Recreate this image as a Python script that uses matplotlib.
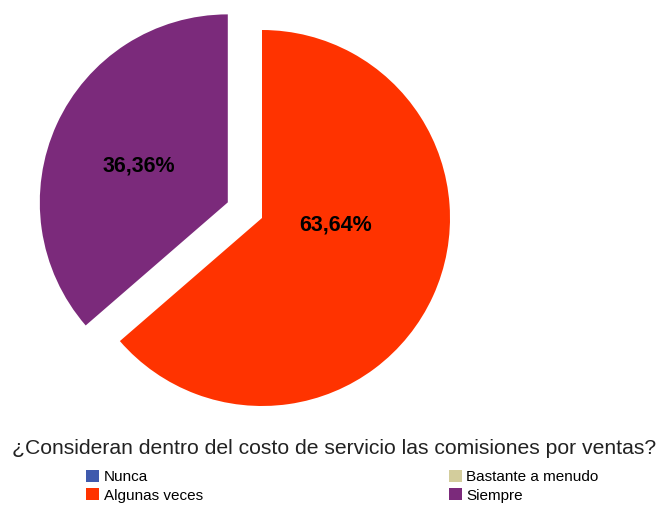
import matplotlib.pyplot as plt
from matplotlib.patches import Patch

categories = ["Nunca", "Algunas veces", "Bastante a menudo", "Siempre"]
values = [0, 63.64, 0, 36.36]
colors = ["#3f5aad", "#ff3300", "#d3cd9c", "#7b2a7b"]
title = "¿Consideran dentro del costo de servicio las comisiones por ventas?"

plt.rcParams['font.family'] = ['Liberation Sans', 'DejaVu Sans']

fig = plt.figure(figsize=(6.6, 5.05), dpi=100)

# pie axes: 188 px per data unit, centre at pixel (262, 218 from top)
scale = 188
lim = 1.3
side = 2 * lim * scale
cx, cy = 262, 505 - 218
ax = fig.add_axes([(cx - side / 2) / 660, (cy - side / 2) / 505, side / 660, side / 505])

# only non-zero slices are drawn
vals = [v for v in values if v > 0]
cols = [c for v, c in zip(values, colors) if v > 0]
expl = [0.2 if n == "Siempre" else 0 for v, n in zip(values, categories) if v > 0]

wedges, texts = ax.pie(vals, colors=cols, explode=expl, startangle=90,
                       counterclock=False, radius=1,
                       wedgeprops=dict(linewidth=0))
ax.set_xlim(-lim, lim)
ax.set_ylim(-lim, lim)
ax.set_aspect('equal')
ax.axis('off')

# percentage labels
ax.text(0.394, -0.036, "63,64%", ha='center', va='center',
        fontsize=15.5, fontweight='bold', color='black')
ax.text(-0.655, 0.277, "36,36%", ha='center', va='center',
        fontsize=15.5, fontweight='bold', color='black')

fig.text(334 / 660, 1 - 448 / 505, title, ha='center', va='center',
         fontsize=15.2, color='#222222')

handles = [Patch(facecolor=c, edgecolor='none') for c in colors]
fig.legend(handles, categories, ncol=2, loc='upper left',
           bbox_to_anchor=(86 / 660, 1 - 470 / 505), frameon=False,
           fontsize=11, handlelength=0.85, handleheight=0.85,
           handletextpad=0.3, columnspacing=16.1, labelspacing=0.25,
           borderpad=0, borderaxespad=0)

fig.savefig("out.png", dpi=100)
